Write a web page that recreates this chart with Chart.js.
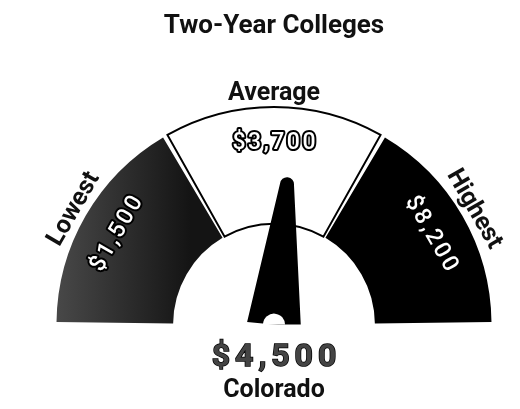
<!DOCTYPE html>
<html>
<head>
<meta charset="utf-8">
<script src="https://cdn.jsdelivr.net/npm/chart.js@4.4.1/dist/chart.umd.min.js"></script>
<style>
  html, body { margin: 0; padding: 0; background: #fff; }
  #wrap { width: 520px; height: 409px; }
</style>
</head>
<body>
<div id="wrap"><canvas id="gaugeChart"></canvas></div>
<script>
const labels = ['Lowest', 'Average', 'Highest'];
const amounts = [1500, 3700, 8200];
const segmentSizes = [1, 1, 1];
const stateName = 'Colorado';
const stateAmount = 4500;
const gaugeMin = 0;
const gaugeMax = 8500;

const money = v => '$' + v.toLocaleString('en-US');

// text with letter spacing, centred without the trailing gap
function spacedText(ctx, txt, x, y, spacing, stroke) {
    ctx.letterSpacing = spacing + 'px';
    const sx = x + spacing / 2;
    if (stroke) ctx.strokeText(txt, sx, y);
    ctx.fillText(txt, sx, y);
    ctx.letterSpacing = '0px';
}

const gaugeText = {
    id: 'gaugeText',
    afterDatasetsDraw(chart) {
        const ctx = chart.ctx;
        const arcs = chart.getDatasetMeta(0).data;
        const first = arcs[0].getProps(['x', 'y', 'startAngle', 'outerRadius', 'innerRadius'], true);
        const last = arcs[arcs.length - 1].getProps(['endAngle'], true);
        const cx = first.x, cy = first.y;

        // category names outside, values inside the ring
        arcs.forEach((arc, i) => {
            const p = arc.getProps(['startAngle', 'endAngle', 'outerRadius', 'innerRadius'], true);
            const mid = (p.startAngle + p.endAngle) / 2;
            const rot = mid + Math.PI / 2;

            ctx.save();
            const rl = p.outerRadius + 17;
            ctx.translate(cx + Math.cos(mid) * rl, cy + Math.sin(mid) * rl);
            ctx.rotate(rot);
            ctx.font = 'bold 25px Roboto';
            ctx.fillStyle = '#111';
            ctx.textAlign = 'center';
            ctx.textBaseline = 'middle';
            ctx.fillText(labels[i], 0, 0);
            ctx.restore();

            ctx.save();
            const rv = p.innerRadius + (p.outerRadius - p.innerRadius) * 0.72;
            ctx.translate(cx + Math.cos(mid) * rv, cy + Math.sin(mid) * rv);
            ctx.rotate(rot);
            ctx.font = '500 23px Roboto';
            ctx.textAlign = 'center';
            ctx.textBaseline = 'middle';
            ctx.lineJoin = 'round';
            ctx.lineWidth = 4;
            ctx.strokeStyle = '#000';
            ctx.fillStyle = '#fff';
            spacedText(ctx, money(amounts[i]), 0, 0, 2.5, true);
            ctx.restore();
        });

        // needle
        const frac = (stateAmount - gaugeMin) / (gaugeMax - gaugeMin);
        const ang = first.startAngle + frac * (last.endAngle - first.startAngle);
        ctx.save();
        ctx.beginPath();
        ctx.rect(0, 0, chart.width, cy);
        ctx.clip();
        ctx.translate(cx, cy);
        ctx.rotate(ang);
        ctx.beginPath();
        ctx.moveTo(0, -27);
        ctx.lineTo(141, -7);
        ctx.arc(141, 0, 7, -Math.PI / 2, Math.PI / 2);
        ctx.lineTo(0, 27);
        ctx.closePath();
        ctx.fillStyle = '#000';
        ctx.fill();
        ctx.beginPath();
        ctx.arc(0, 0, 11, 0, Math.PI * 2);
        ctx.fillStyle = '#fff';
        ctx.fill();
        ctx.restore();

        // state value and name
        ctx.save();
        ctx.textAlign = 'center';
        ctx.textBaseline = 'alphabetic';
        ctx.font = 'bold 32px Roboto';
        ctx.lineWidth = 1.5;
        ctx.strokeStyle = '#000';
        ctx.fillStyle = '#444';
        spacedText(ctx, money(stateAmount), cx, 366, 5, true);
        ctx.font = 'bold 25px Roboto';
        ctx.fillStyle = '#111';
        ctx.fillText(stateName, cx, 397);
        ctx.restore();
    }
};

new Chart(document.getElementById('gaugeChart'), {
    type: 'doughnut',
    data: {
        labels: labels,
        datasets: [{
            data: segmentSizes,
            backgroundColor: ctx => {
                if (ctx.dataIndex === 0) {
                    const g = ctx.chart.ctx.createLinearGradient(60, 0, 190, 0);
                    g.addColorStop(0, '#474747');
                    g.addColorStop(1, '#141414');
                    return g;
                }
                return ctx.dataIndex === 1 ? '#ffffff' : '#000000';
            },
            borderColor: ['#ffffff', '#000000', '#ffffff'],
            borderWidth: [0, 2, 0],
            borderAlign: 'center',
            borderJoinStyle: 'miter',
            spacing: 7
        }]
    },
    options: {
        responsive: true,
        maintainAspectRatio: false,
        animation: false,
        events: [],
        rotation: -90,
        circumference: 180,
        radius: 214,
        cutout: '45.5%',
        layout: {
            padding: { left: 28, right: 0, top: 0, bottom: 16 }
        },
        plugins: {
            legend: { display: false },
            tooltip: { enabled: false },
            title: {
                display: true,
                text: 'Two-Year Colleges',
                color: '#111',
                font: { family: 'Roboto', size: 26, weight: 'bold' },
                padding: { top: 11, bottom: 0 }
            }
        }
    },
    plugins: [gaugeText]
});
</script>
</body>
</html>
